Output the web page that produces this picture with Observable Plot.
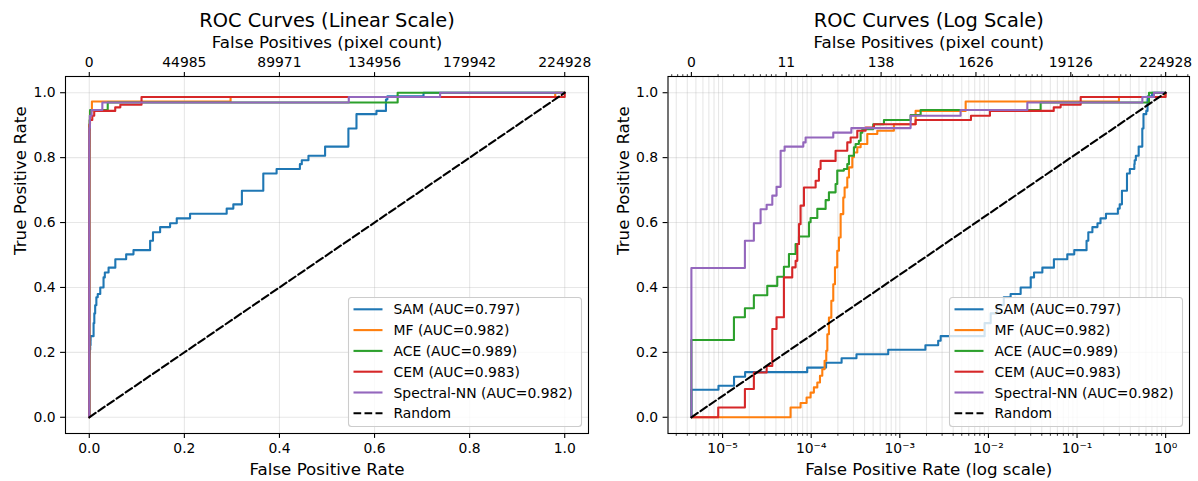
<!DOCTYPE html>
<html>
<head>
<meta charset="utf-8">
<script src="https://cdn.jsdelivr.net/npm/d3@7"></script>
<script src="https://cdn.jsdelivr.net/npm/@observablehq/plot@0.6"></script>
<style>
  html, body { margin: 0; padding: 0; background: #fff; }
  #wrap { position: relative; width: 1198px; height: 481px; overflow: hidden; }
  #wrap > svg { position: absolute; top: 0; }
</style>
</head>
<body>
<div id="wrap"></div>
<script>
// ---------------- data ----------------
const N = 224928; // total negative pixels
const methods = ["SAM", "MF", "ACE", "CEM", "Spectral-NN"];
const aucs = ["0.797", "0.982", "0.989", "0.983", "0.982"];
const colors = ["#1f77b4", "#ff7f0e", "#2ca02c", "#d62728", "#9467bd"];

const samFpr = [0, 0, 8.99e-6, 1.346e-5, 1.795e-5, 9.016e-5, 1.472e-4, 2.203e-4, 3.243e-4, 7.396e-4, 1.945e-3, 2.710e-3, 2.891e-3, 9.057e-3, 0.0106, 0.0124, 0.0149, 0.0178, 0.0231, 0.0300, 0.0327, 0.0406, 0.0548, 0.0776, 0.093, 0.128, 0.134, 0.149, 0.170, 0.184, 0.212, 0.289, 0.303, 0.321, 0.366, 0.366, 0.394, 0.443, 0.447, 0.461, 0.496, 0.545, 0.545, 0.562, 0.604, 0.624, 0.627, 0.703, 1];
const samTpr = [0, 0.085, 0.097, 0.125, 0.139, 0.153, 0.168, 0.182, 0.194, 0.208, 0.222, 0.236, 0.250, 0.290, 0.320, 0.345, 0.370, 0.380, 0.400, 0.431, 0.446, 0.461, 0.487, 0.502, 0.515, 0.544, 0.570, 0.586, 0.598, 0.613, 0.627, 0.643, 0.656, 0.698, 0.710, 0.751, 0.765, 0.780, 0.792, 0.806, 0.834, 0.847, 0.890, 0.934, 0.944, 0.979, 0.989, 1.0, 1.0];

const mfFpr = [0, 5.848e-5, 7.586e-5, 8.872e-5, 9.840e-5, 1.072e-4, 1.172e-4, 1.256e-4, 1.334e-4, 1.416e-4, 1.479e-4, 1.521e-4, 1.585e-4, 1.687e-4, 1.774e-4, 1.854e-4, 1.968e-4, 2.056e-4, 2.148e-4, 2.301e-4, 2.382e-4, 2.553e-4, 2.667e-4, 2.911e-4, 3.034e-4, 3.311e-4, 3.614e-4, 4.295e-4, 5.572e-4, 8.570e-4, 1.507e-3, 5.534e-3, 0.2972, 0.98, 1];
const mfTpr = [0, 0.030, 0.044, 0.061, 0.076, 0.092, 0.107, 0.128, 0.148, 0.174, 0.205, 0.256, 0.307, 0.359, 0.410, 0.462, 0.513, 0.554, 0.626, 0.677, 0.708, 0.739, 0.770, 0.801, 0.816, 0.832, 0.842, 0.873, 0.883, 0.903, 0.944, 0.973, 0.987, 1.0, 1.0];

const aceFpr = [0, 0, 1.343e-5, 1.786e-5, 2.254e-5, 3.192e-5, 4.140e-5, 4.920e-5, 5.610e-5, 6.668e-5, 7.278e-5, 9.441e-5, 9.840e-5, 1.172e-4, 1.455e-4, 1.585e-4, 1.884e-4, 1.968e-4, 2.339e-4, 2.553e-4, 2.667e-4, 3.034e-4, 3.170e-4, 3.451e-4, 3.614e-4, 3.776e-4, 5.012e-4, 6.622e-4, 1.324e-3, 1.718e-3, 0.03882, 0.6486, 1];
const aceTpr = [0, 0.238, 0.308, 0.336, 0.376, 0.405, 0.433, 0.464, 0.503, 0.534, 0.557, 0.601, 0.614, 0.642, 0.669, 0.693, 0.719, 0.760, 0.765, 0.780, 0.806, 0.832, 0.842, 0.852, 0.877, 0.888, 0.903, 0.916, 0.931, 0.947, 0.970, 1.0, 1.0];

const cemFpr = [0, 8.93e-6, 1.786e-5, 2.254e-5, 3.141e-5, 3.639e-5, 4.064e-5, 4.920e-5, 6.109e-5, 6.668e-5, 6.966e-5, 7.278e-5, 7.586e-5, 8.279e-5, 1.122e-4, 1.222e-4, 1.276e-4, 1.884e-4, 2.553e-4, 2.786e-4, 3.311e-4, 4.111e-4, 5.105e-4, 1.507e-3, 6.353e-3, 0.0104, 0.05458, 0.06531, 0.1099, 1];
const cemTpr = [0, 0.030, 0.087, 0.138, 0.158, 0.272, 0.308, 0.431, 0.462, 0.482, 0.534, 0.595, 0.652, 0.708, 0.729, 0.765, 0.790, 0.821, 0.847, 0.862, 0.883, 0.893, 0.903, 0.916, 0.929, 0.944, 0.955, 0.963, 0.987, 1.0];

const snnFpr = [0, 0, 1.786e-5, 2.254e-5, 2.685e-5, 3.141e-5, 3.639e-5, 4.064e-5, 4.519e-5, 5.012e-5, 8.147e-5, 8.650e-5, 1.774e-4, 2.838e-4, 1.324e-3, 4.853e-3, 0.02748, 0.5458, 0.7379, 1];
const snnTpr = [0, 0.460, 0.544, 0.598, 0.641, 0.655, 0.683, 0.710, 0.821, 0.834, 0.847, 0.862, 0.877, 0.891, 0.929, 0.947, 0.970, 0.987, 1.0, 1.0];

const randomFpr = [0, 1];
const randomTpr = [0, 1];

const yTicks = [0, 0.2, 0.4, 0.6, 0.8, 1.0];
const linXTicks = [0, 0.2, 0.4, 0.6, 0.8, 1.0];
const linTopLabels = ["0", "44985", "89971", "134956", "179942", "224928"];
const logXTicks = [1e-5, 1e-4, 1e-3, 1e-2, 1e-1, 1];
const logXLabels = ["10\u207B\u2075", "10\u207B\u2074", "10\u207B\u00B3", "10\u207B\u00B2", "10\u207B\u00B9", "10\u2070"];
const logTopLabels = ["0", "11", "138", "1626", "19126", "224928"];

// ---------------- derived tables ----------------
const rocFpr = [samFpr, mfFpr, aceFpr, cemFpr, snnFpr];
const rocTpr = [samTpr, mfTpr, aceTpr, cemTpr, snnTpr];
const rows = methods.flatMap((m, k) => rocFpr[k].map((f, i) => ({method: m, fpr: f, tpr: rocTpr[k][i]})));
const randomRows = randomFpr.map((f, i) => ({fpr: f, tpr: randomTpr[i]}));
const fmin = 1 / N;
const logX = d => Math.max(d.fpr, fmin);

const logDomain = [Math.pow(10, -5.616), Math.pow(10, 0.269)];
const inLog = v => v >= logDomain[0] && v <= logDomain[1];
const minorBottom = [];
for (let k = -6; k <= 0; k++) for (let m = 2; m <= 9; m++) { const v = m * Math.pow(10, k); if (inLog(v)) minorBottom.push(v); }
const gridLog = logXTicks.concat(minorBottom);
const logTopPos = d3.range(6).map(i => Math.pow(10, Math.log10(fmin) * (1 - i / 5)));
const minorTop = [];
for (let k = -1; k <= 5; k++) for (let m = 2; m <= 9; m++) { const v = m * Math.pow(10, k) / N; if (inLog(v)) minorTop.push(v); }

const bottomLabelRows = logXTicks.map((v, i) => ({v, label: logXLabels[i]}));
const topLogLabelRows = logTopPos.map((v, i) => ({v, label: logTopLabels[i]}));
const topLinLabelRows = linXTicks.map((v, i) => ({v, label: linTopLabels[i]}));

const legendEntries = methods.map((m, i) => ({label: `${m} (AUC=${aucs[i]})`, color: colors[i]}))
  .concat([{label: "Random", color: "black", dash: "7.7,3.3"}]);

const FONT = "'DejaVu Sans', 'Liberation Sans', sans-serif";

function legendMark(entries) {
  return (index, scales, values, dims) => {
    const {width, height, marginRight, marginBottom} = dims;
    const W = 233, H = 129;
    const x0 = width - marginRight - 6.5 - W;
    const y0 = height - marginBottom - 6.5 - H;
    const g = d3.create("svg:g");
    g.append("rect").attr("x", x0).attr("y", y0).attr("width", W).attr("height", H).attr("rx", 3)
      .attr("fill", "white").attr("fill-opacity", 0.8).attr("stroke", "#cccccc").attr("stroke-width", 1.1);
    entries.forEach((e, i) => {
      const cy = y0 + 11.8 + i * 20.8;
      g.append("line").attr("x1", x0 + 5).attr("x2", x0 + 34).attr("y1", cy).attr("y2", cy)
        .attr("stroke", e.color).attr("stroke-width", 2.1).attr("stroke-dasharray", e.dash || null);
      g.append("text").attr("x", x0 + 45).attr("y", cy).attr("dy", "0.36em").attr("text-anchor", "start")
        .attr("font-size", 13.9).attr("font-family", FONT).attr("fill", "black").text(e.label);
    });
    return g.node();
  };
}

function panel({log, title, xLabel, width, marginLeft, marginRight}) {
  const xAcc = log ? logX : "fpr";
  const grid = {stroke: "#b0b0b0", strokeOpacity: 0.3, strokeWidth: 1.1};
  const marks = [
    Plot.gridY({ticks: yTicks, ...grid}),
    log ? Plot.gridX({ticks: gridLog, ...grid}) : Plot.gridX({ticks: linXTicks, ...grid}),
    Plot.line(rows, {x: xAcc, y: "tpr", z: "method", stroke: "method", curve: "step-after", strokeWidth: 2.1}),
    Plot.line(randomRows, {x: xAcc, y: "tpr", stroke: "black", strokeWidth: 2.1, strokeDasharray: "7.7,3.3"}),
    legendMark(legendEntries),
    Plot.frame({stroke: "black", strokeWidth: 1.1}),
    Plot.axisY({ticks: yTicks, tickFormat: d => d.toFixed(1), tickSize: 4.9, tickPadding: 4.9, strokeWidth: 1.1, label: null, fontSize: 13.9}),
  ];
  if (log) {
    marks.push(
      Plot.axisX({anchor: "bottom", ticks: minorBottom, tickSize: 2.8, tickFormat: () => "", strokeWidth: 0.8, label: null}),
      Plot.axisX({anchor: "bottom", ticks: logXTicks, tickSize: 4.9, tickFormat: () => "", strokeWidth: 1.1, label: null}),
      Plot.text(bottomLabelRows, {x: "v", text: "label", frameAnchor: "bottom", dy: 9.8, lineAnchor: "top", fontSize: 13.9}),
      Plot.axisX({anchor: "top", ticks: minorTop, tickSize: 2.8, tickFormat: () => "", strokeWidth: 0.8, label: null}),
      Plot.axisX({anchor: "top", ticks: logTopPos, tickSize: 4.9, tickFormat: () => "", strokeWidth: 1.1, label: null}),
      Plot.text(topLogLabelRows, {x: "v", text: "label", frameAnchor: "top", dy: -9.8, lineAnchor: "bottom", fontSize: 13.9})
    );
  } else {
    marks.push(
      Plot.axisX({anchor: "bottom", ticks: linXTicks, tickSize: 4.9, tickPadding: 4.9, strokeWidth: 1.1, label: null, fontSize: 13.9,
        tickFormat: d => d.toFixed(1)}),
      Plot.axisX({anchor: "top", ticks: linXTicks, tickSize: 4.9, tickFormat: () => "", strokeWidth: 1.1, label: null}),
      Plot.text(topLinLabelRows, {x: "v", text: "label", frameAnchor: "top", dy: -9.8, lineAnchor: "bottom", fontSize: 13.9})
    );
  }
  marks.push(
    Plot.text([title], {text: d => d, frameAnchor: "top", dy: -50, lineAnchor: "bottom", fontSize: 19.4}),
    Plot.text(["False Positives (pixel count)"], {text: d => d, frameAnchor: "top", dy: -29, lineAnchor: "bottom", fontSize: 16.7}),
    Plot.text([xLabel], {text: d => d, frameAnchor: "bottom", dy: 41, lineAnchor: "bottom", fontSize: 16.7}),
    Plot.text(["True Positive Rate"], {text: d => d, frameAnchor: "left", rotate: -90, dx: -39.2, lineAnchor: "bottom", fontSize: 16.7})
  );
  return Plot.plot({
    width, height: 481,
    marginLeft, marginRight, marginTop: 76, marginBottom: 48,
    style: {fontFamily: FONT, fontSize: "13.9px", color: "black", background: "transparent", overflow: "visible"},
    x: log ? {type: "log", domain: logDomain, label: null} : {domain: [-0.05, 1.05], label: null},
    y: {domain: [-0.05, 1.05], label: null},
    color: {domain: methods, range: colors},
    marks
  });
}

const wrap = document.getElementById("wrap");
const left = panel({log: false, title: "ROC Curves (Linear Scale)", xLabel: "False Positive Rate", width: 600, marginLeft: 65, marginRight: 12});
left.style.left = "0px";
wrap.appendChild(left);
const right = panel({log: true, title: "ROC Curves (Log Scale)", xLabel: "False Positive Rate (log scale)", width: 598, marginLeft: 67.5, marginRight: 9});
right.style.left = "600px";
wrap.appendChild(right);
</script>
</body>
</html>
